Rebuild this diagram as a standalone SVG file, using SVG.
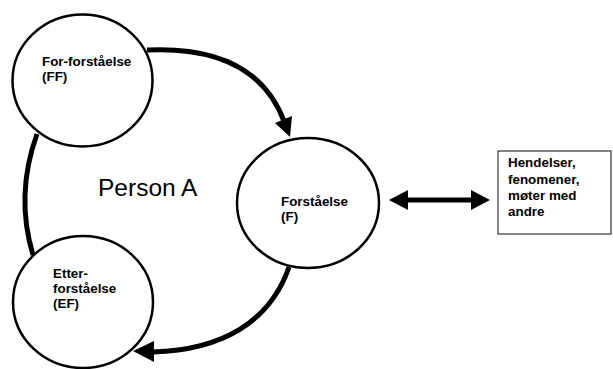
<svg xmlns="http://www.w3.org/2000/svg" width="613" height="369" viewBox="0 0 613 369">
<style>
.node{fill:#fff;stroke:#000;stroke-width:2.5}
.lbl{font-family:"Liberation Sans",Arial,sans-serif;font-weight:bold;font-size:13.4px;fill:#000}
.conn{fill:none;stroke:#000;stroke-width:5}
.head{fill:#000;stroke:none}
</style>
<rect width="613" height="369" fill="#fff"/>
<g id="connectors">
<path class="conn" d="M37,134 Q15,195 33,255"/>
<path class="conn" d="M147,50 Q255,45 284,121"/>
<polygon class="head" points="290,137 292,116 275,123"/>
<path class="conn" d="M289,267 C270,322 222,350 153,352"/>
<polygon class="head" points="133,351 154,341 154,362"/>
<rect x="405" y="197.5" width="69" height="5" fill="#000"/>
<polygon class="head" points="389,200 408,190 408,210"/>
<polygon class="head" points="490,200 471,190 471,210"/>
</g>
<g id="ff">
<ellipse class="node" cx="82.5" cy="80.5" rx="70" ry="66"/>
<text class="lbl" x="42" y="66">For-forståelse</text>
<text class="lbl" x="42" y="81">(FF)</text>
</g>
<g id="person">
<text x="98" y="196" font-family="Liberation Sans, Arial, sans-serif" font-size="24.5" fill="#000">Person A</text>
</g>
<g id="f">
<ellipse class="node" cx="308" cy="203" rx="71" ry="65"/>
<text class="lbl" x="281" y="206">Forståelse</text>
<text class="lbl" x="281" y="221">(F)</text>
</g>
<g id="ef">
<ellipse class="node" cx="83" cy="302" rx="70" ry="66"/>
<text class="lbl" x="53" y="278">Etter-</text>
<text class="lbl" x="53" y="293">forståelse</text>
<text class="lbl" x="53" y="308">(EF)</text>
</g>
<g id="box">
<rect x="498" y="151" width="113" height="83" fill="#fff" stroke="#333" stroke-width="1.2"/>
<text class="lbl" x="508" y="167">Hendelser,</text>
<text class="lbl" x="508" y="184">fenomener,</text>
<text class="lbl" x="508" y="200">møter med</text>
<text class="lbl" x="508" y="216">andre</text>
</g>
</svg>
